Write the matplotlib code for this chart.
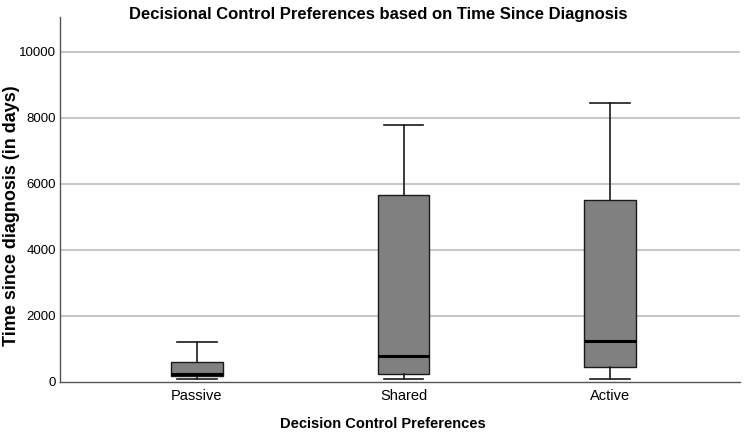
import matplotlib
matplotlib.use("Agg")
import matplotlib.pyplot as plt

plt.rcParams['font.family'] = ['Liberation Sans', 'DejaVu Sans']

categories = ["Passive", "Shared", "Active"]
whislo = [100, 80, 80]
q1 = [170, 230, 450]
med = [240, 790, 1230]
q3 = [615, 5650, 5500]
whishi = [1200, 7770, 8430]
yticks = [0, 2000, 4000, 6000, 8000, 10000]

stats = []
for i, c in enumerate(categories):
    stats.append(dict(label=c, whislo=whislo[i], q1=q1[i], med=med[i],
                      q3=q3[i], whishi=whishi[i], fliers=[]))

fig = plt.figure(figsize=(7.5, 4.33), dpi=100)
ax = fig.add_axes([0.08, 0.118, 0.907, 0.843])

for y in yticks[1:]:
    ax.axhline(y, color='#c8c8c8', lw=1.5, zorder=0)

ax.bxp(stats, positions=[1, 2, 3], widths=0.25, patch_artist=True,
       showfliers=False,
       boxprops=dict(facecolor='#808080', edgecolor='#1a1a1a', lw=1.0),
       medianprops=dict(color='black', lw=2.2),
       whiskerprops=dict(color='#1a1a1a', lw=1.2),
       capprops=dict(color='#1a1a1a', lw=1.2),
       capwidths=0.19)

ax.set_xlim(0.337, 3.63)
ax.set_ylim(0, 11050)
ax.set_yticks(yticks)
ax.set_yticklabels([str(v) for v in yticks], fontsize=9.5)
ax.set_xticks([1, 2, 3])
ax.set_xticklabels(categories, fontsize=10.5)
ax.tick_params(axis='y', length=0, pad=3)
ax.tick_params(axis='x', length=0, pad=5)
for s in ['top', 'right']:
    ax.spines[s].set_visible(False)
for s in ['left', 'bottom']:
    ax.spines[s].set_color('#555555')
    ax.spines[s].set_linewidth(1.0)

fig.text(12 / 750, 1 - 216 / 433, "Time since diagnosis (in days)", rotation=90,
         ha='center', va='center', fontsize=13, fontweight='bold')
fig.text(383 / 750, 1 - 424 / 433, "Decision Control Preferences",
         ha='center', va='center', fontsize=10.5, fontweight='bold')
fig.text(378 / 750, 1 - 14 / 433, "Decisional Control Preferences based on Time Since Diagnosis",
         ha='center', va='center', fontsize=12, fontweight='bold')

fig.savefig("out.png", dpi=100)
